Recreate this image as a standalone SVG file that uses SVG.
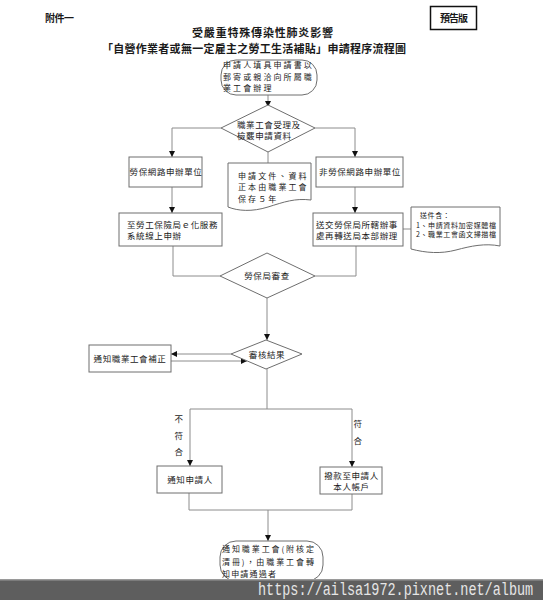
<svg xmlns="http://www.w3.org/2000/svg" width="543" height="600" viewBox="0 0 543 600">
<style>
text{font-family:"Noto Sans CJK TC","Noto Sans CJK SC",sans-serif;fill:#1a1a1a}
.t{font-size:8.5px;letter-spacing:0.6px}
.w{font-size:8px;letter-spacing:2.1px}
.n{font-size:7px;letter-spacing:0.6px}
.h{font-size:11px;font-weight:bold}
.m{text-anchor:middle}
.node{fill:#fff;stroke:#6e6e6e;stroke-width:1}
.c{fill:none;stroke:#8c8c8c;stroke-width:1}
.a{marker-end:url(#arr)}
</style>
<defs>
<marker id="arr" viewBox="0 0 6 6" refX="6" refY="3" markerWidth="6" markerHeight="6" markerUnits="userSpaceOnUse" orient="auto">
<path d="M0,0 L6,3 L0,6 Z" fill="#111"/>
</marker>
</defs>
<rect width="543" height="600" fill="#fff"/>

<g id="header">
<text x="45" y="22" class="h" style="font-size:10px" textLength="29">附件一</text>
<rect x="430.5" y="6.5" width="46" height="23" fill="none" stroke="#111" stroke-width="1.5"/>
<text x="440" y="22" class="h" style="font-size:10px" textLength="28">預告版</text>
<text x="192" y="36.5" class="h" textLength="141">受嚴重特殊傳染性肺炎影響</text>
<text x="102" y="53" class="h" textLength="304">「自營作業者或無一定雇主之勞工生活補貼」申請程序流程圖</text>
</g>

<g id="connectors">
<path class="c a" d="M268,95 V107"/>
<path class="c a" d="M221,128 H172 V157"/>
<path class="c a" d="M315,128 H355 V157"/>
<path class="c" d="M268,152 V163"/>
<path class="c a" d="M172,187 V213"/>
<path class="c a" d="M355,187 V213"/>
<path class="c" d="M403,229 H411"/>
<path class="c" d="M173,246 V276 H220"/>
<path class="c" d="M356,246 V276 H315"/>
<path class="c a" d="M267,298 V340"/>
<path class="c a" d="M231,354 H171"/>
<path class="c a" d="M171,361 H247"/>
<path class="c" d="M267,369 V409 M190,409 H352"/>
<path class="c a" d="M190,409 V466"/>
<path class="c a" d="M352,409 V467"/>
<path class="c" d="M189,493 V510 H352 V494"/>
<path class="c a" d="M268,510 V541"/>
</g>

<g id="start">
<rect class="node" x="221" y="60" width="96" height="35" rx="15"/>
<text x="223" y="68" class="w">申請人填具申請書以</text>
<text x="223" y="79.5" class="w">郵寄或親洽向所屬職</text>
<text x="223" y="91" class="w">業工會辦理</text>
</g>

<g id="d-union">
<path class="node" d="M221,128 L268,105 L315,128 L268,152 Z"/>
<text x="237" y="127.5" class="t">職業工會受理及</text>
<text x="237" y="138.5" class="t">檢覈申請資料</text>
</g>

<g id="b-online">
<rect class="node" x="129" y="157" width="73" height="30"/>
<text x="166" y="175" class="t m">勞保網路申辦單位</text>
</g>

<g id="b-offline">
<rect class="node" x="316" y="157" width="87" height="30"/>
<text x="360" y="175" class="t m">非勞保網路申辦單位</text>
</g>

<g id="doc-keep">
<path class="node" d="M228,163 H311 V200 C295,198 284,202 268,207 C252,212 238,211 228,207 Z"/>
<text x="238" y="178.5" class="w">申請文件、資料</text>
<text x="238" y="190" class="w">正本由職業工會</text>
<text x="238" y="201.5" class="w">保存５年</text>
</g>

<g id="b-eservice">
<rect class="node" x="119" y="213" width="103" height="33"/>
<text x="127" y="228" class="t">至勞工保險局ｅ化服務</text>
<text x="127" y="239" class="t">系統線上申辦</text>
</g>

<g id="b-office">
<rect class="node" x="313" y="213" width="90" height="33"/>
<text x="316" y="228" class="t">送交勞保局所轄辦事</text>
<text x="316" y="239" class="t">處再轉送局本部辦理</text>
</g>

<g id="doc-note">
<path class="node" d="M411,207 H500 V246 C485,243 471,246 456,250 C441,254 426,253 411,249 Z" stroke="#333"/>
<text x="420" y="218" class="n">送件含：</text>
<text x="416" y="227.5" class="n">1、申請資料加密媒體檔</text>
<text x="416" y="236.5" class="n">2、職業工會函文掃描檔</text>
</g>

<g id="d-review">
<path class="node" d="M220,276 L267,253 L315,276 L267,298 Z"/>
<text x="267" y="279" class="t m">勞保局審查</text>
</g>

<g id="d-result">
<path class="node" d="M231,354 L266,340 L302,354 L266,369 Z"/>
<text x="267" y="357.5" class="t m">審核結果</text>
</g>

<g id="b-correct">
<rect class="node" x="89" y="345" width="82" height="27"/>
<text x="130" y="361.5" class="t m">通知職業工會補正</text>
</g>

<g id="labels">
<text x="179" y="422" class="t m">不</text>
<text x="179" y="438.5" class="t m">符</text>
<text x="179" y="454.5" class="t m">合</text>
<text x="358" y="427" class="t m">符</text>
<text x="358" y="443.5" class="t m">合</text>
</g>

<g id="b-notify">
<rect class="node" x="157" y="466" width="65" height="27"/>
<text x="190" y="483" class="t m">通知申請人</text>
</g>

<g id="b-pay">
<rect class="node" x="320" y="467" width="62" height="27"/>
<text x="351.5" y="479" class="t m">撥款至申請人</text>
<text x="351.5" y="490" class="t m">本人帳戶</text>
</g>

<g id="end">
<rect class="node" x="220" y="541" width="103" height="40" rx="16"/>
<text x="222" y="552" class="w" textLength="94">通知職業工會(附核定</text>
<text x="222" y="564.5" class="w" textLength="94">清冊)，由職業工會轉</text>
<text x="222" y="576.5" class="w" textLength="56">知申請通過者</text>
</g>

<g id="watermark">
<rect x="0" y="579" width="543" height="21" fill="#5e5e5e"/>
<rect x="0" y="579" width="543" height="1.5" fill="#9a9a9a"/>
<text transform="translate(258,595) scale(1,1.3)" x="0" y="0" style="font-family:'Liberation Mono',monospace;font-size:13.5px;fill:#e6e6e6">https://ailsa1972.pixnet.net/album</text>
</g>
</svg>
